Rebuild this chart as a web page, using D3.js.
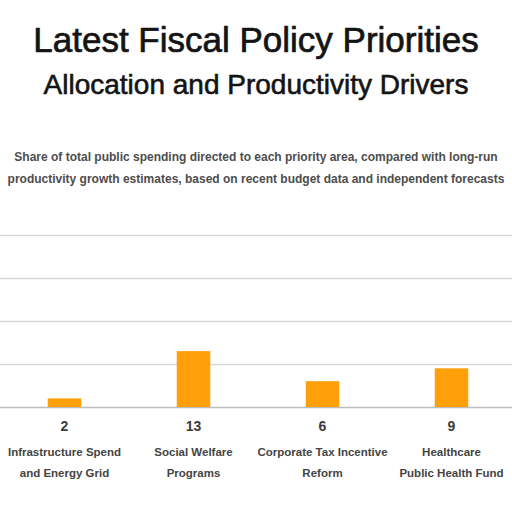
<!DOCTYPE html>
<html>
<head>
<meta charset="utf-8">
<script src="https://cdn.jsdelivr.net/npm/d3@7"></script>
<style>
  body { margin: 0; background: #fff; }
  svg { display: block; }
</style>
</head>
<body>
<div class="chart-container"></div>
<script>
// data
const categories = ['infra', 'welfare', 'tax', 'health'];
const categoryLines = [
  ['Infrastructure Spend', 'and Energy Grid'],
  ['Social Welfare', 'Programs'],
  ['Corporate Tax Incentive', 'Reform'],
  ['Healthcare', 'Public Health Fund']
];
const values = [2, 13, 6, 9];
const valueLabels = ['2', '13', '6', '9'];
const yTicks = [0, 10, 20, 30, 40];

const titleLines = ['Latest Fiscal Policy Priorities', 'Allocation and Productivity Drivers'];
const subtitleLines = [
  'Share of total public spending directed to each priority area, compared with long-run',
  'productivity growth estimates, based on recent budget data and independent forecasts'
];

const width = 512;
const height = 512;

const svg = d3.select('.chart-container')
    .append('svg')
    .attr('width', width)
    .attr('height', height);

// scales
const xScale = d3.scaleBand()
    .domain(categories)
    .range([0, 516])
    .paddingInner(0.74)
    .paddingOuter(0.37);

const yScale = d3.scaleLinear()
    .domain([0, 40])
    .range([407, 235]);

// gridlines
svg.append('g')
    .attr('class', 'grid')
    .call(d3.axisLeft(yScale)
        .tickValues(yTicks)
        .tickSize(-width)
        .tickFormat(''))
    .call(g => g.select('.domain').remove())
    .call(g => g.selectAll('line')
        .attr('stroke', (d) => d === 0 ? '#bdbdbd' : '#d6d6d6')
        .attr('stroke-width', 1.5));

// bars
svg.selectAll('.bar')
    .data(values)
    .enter().append('rect')
    .attr('class', 'bar')
    .attr('x', (d, i) => xScale(categories[i]))
    .attr('y', d => yScale(d))
    .attr('width', xScale.bandwidth())
    .attr('height', d => yScale(0) - yScale(d))
    .attr('fill', '#ff9f0a');

// value labels under bars
svg.selectAll('.value-label')
    .data(valueLabels)
    .enter().append('text')
    .attr('class', 'value-label')
    .attr('x', (d, i) => xScale(categories[i]) + xScale.bandwidth() / 2)
    .attr('y', yScale(0) + 24)
    .style('font-family', 'Liberation Sans, Arial, sans-serif')
    .style('font-size', '14px')
    .style('font-weight', 'bold')
    .style('fill', '#3c3c3c')
    .style('text-anchor', 'middle')
    .text(d => d);

// category labels
const catGroups = svg.selectAll('.cat-label')
    .data(categoryLines)
    .enter().append('text')
    .attr('class', 'cat-label')
    .attr('x', (d, i) => xScale(categories[i]) + xScale.bandwidth() / 2)
    .attr('y', 456)
    .style('font-family', 'Liberation Sans, Arial, sans-serif')
    .style('font-size', '11.5px')
    .style('font-weight', 'bold')
    .style('fill', '#444')
    .style('text-anchor', 'middle');

catGroups.selectAll('tspan')
    .data(d => d)
    .enter().append('tspan')
    .attr('x', function() { return d3.select(this.parentNode).attr('x'); })
    .attr('dy', (d, i) => i === 0 ? 0 : 21)
    .text(d => d);

// title
svg.append('text')
    .attr('x', width / 2)
    .attr('y', 52)
    .style('font-family', 'Liberation Sans, Arial, sans-serif')
    .style('font-size', '35px')
    .style('fill', '#141414')
    .style('stroke', '#141414')
    .style('stroke-width', 0.7)
    .style('text-anchor', 'middle')
    .text(titleLines[0]);

svg.append('text')
    .attr('x', width / 2)
    .attr('y', 94)
    .style('font-family', 'Liberation Sans, Arial, sans-serif')
    .style('font-size', '28px')
    .style('fill', '#141414')
    .style('stroke', '#141414')
    .style('stroke-width', 0.6)
    .style('text-anchor', 'middle')
    .text(titleLines[1]);

// subtitle
svg.selectAll('.subtitle')
    .data(subtitleLines)
    .enter().append('text')
    .attr('class', 'subtitle')
    .attr('x', width / 2)
    .attr('y', (d, i) => 161 + i * 22)
    .style('font-family', 'Liberation Sans, Arial, sans-serif')
    .style('font-size', '12px')
    .style('font-weight', 'bold')
    .style('fill', '#4d4d4d')
    .style('text-anchor', 'middle')
    .text(d => d);
</script>
</body>
</html>
